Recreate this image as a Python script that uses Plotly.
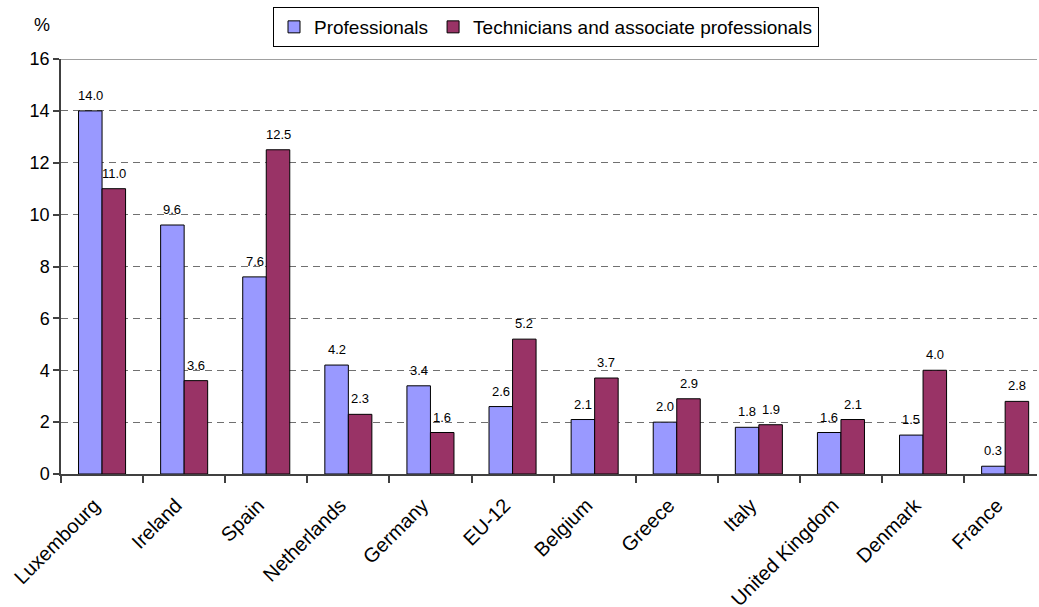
import plotly.graph_objects as go

countries = ["Luxembourg", "Ireland", "Spain", "Netherlands", "Germany", "EU-12",
             "Belgium", "Greece", "Italy", "United Kingdom", "Denmark", "France"]
professionals = [14.0, 9.6, 7.6, 4.2, 3.4, 2.6, 2.1, 2.0, 1.8, 1.6, 1.5, 0.3]
technicians = [11.0, 3.6, 12.5, 2.3, 1.6, 5.2, 3.7, 2.9, 1.9, 2.1, 4.0, 2.8]
y_ticks = [0, 2, 4, 6, 8, 10, 12, 14, 16]

FONT = "Liberation Sans, Arial, sans-serif"
BAR_HALF = 11.75  # px offset of each bar centre from the category centre

fig = go.Figure()
fig.add_trace(go.Bar(
    x=countries, y=professionals, name="Professionals",
    marker=dict(color="#9999FF", line=dict(color="#000000", width=1)),
))
fig.add_trace(go.Bar(
    x=countries, y=technicians, name="Technicians and associate professionals",
    marker=dict(color="#993366", line=dict(color="#000000", width=1)),
))

# value labels above each bar
annotations = []
for series, shift in ((professionals, -BAR_HALF), (technicians, BAR_HALF)):
    for c, v in zip(countries, series):
        annotations.append(dict(
            x=c, y=v, xref="x", yref="y", text=f"{v:.1f}", showarrow=False,
            xshift=shift, yshift=6, yanchor="bottom",
            font=dict(family=FONT, size=13, color="#000000"),
        ))

# unit label above the y axis
annotations.append(dict(
    xref="paper", yref="paper", x=(42 - 61) / 976, y=1 + (59 - 25) / 415,
    text="%", showarrow=False, xanchor="center", yanchor="middle",
    font=dict(family=FONT, size=18, color="#000000"),
))

fig.update_layout(
    width=1039, height=607,
    margin=dict(l=61, r=2, t=59, b=133, autoexpand=False),
    paper_bgcolor="white", plot_bgcolor="white",
    barmode="group", bargap=0.427, bargroupgap=0,
    font=dict(family=FONT, size=16, color="#000000"),
    showlegend=True,
    legend=dict(
        orientation="h", x=(546 - 61) / 976, xanchor="center",
        y=1 + (59 - 7) / 415, yanchor="top",
        bgcolor="white", bordercolor="#000000", borderwidth=1,
        font=dict(family=FONT, size=19, color="#000000"),
        itemwidth=30, tracegroupgap=0,
    ),
    annotations=annotations,
    shapes=[dict(type="line", xref="paper", yref="y", x0=0, x1=1, y0=16, y1=16,
                 line=dict(color="#808080", width=1.5))],
)

fig.update_xaxes(
    range=[-0.5, -0.5 + 976 / 82.1], automargin=False,
    tickangle=-45, tickson="boundaries", ticks="outside", ticklen=7,
    tickcolor="#404040", tickwidth=1.5,
    showline=True, linecolor="#404040", linewidth=1.5,
    ticklabelstandoff=10, ticklabelshift=-8,
    showgrid=False, tickfont=dict(family=FONT, size=20, color="#000000"),
)
fig.update_yaxes(
    range=[0, 16], tickvals=y_ticks, ticks="outside", ticklen=6, automargin=False,
    tickcolor="#404040", tickwidth=1.5,
    showline=True, linecolor="#404040", linewidth=1.5,
    showgrid=True, gridcolor="#707070", gridwidth=1, griddash="7px,5px",
    zeroline=False, tickfont=dict(family=FONT, size=18, color="#000000"),
)

fig.write_html("out.html")
